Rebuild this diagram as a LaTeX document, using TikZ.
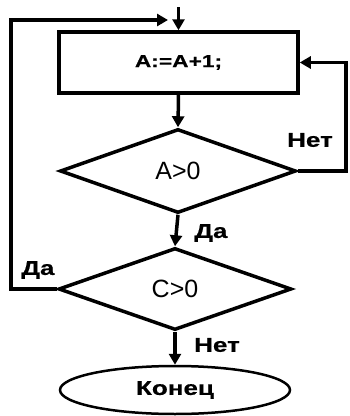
\documentclass[tikz,border=0pt]{standalone}
\usepackage{fontspec}
\setmainfont{Liberation Sans}
\newfontfamily\lblfont[FakeStretch=1.3,FakeBold=0.6]{Liberation Sans}
\usetikzlibrary{shapes.geometric,arrows.meta}
\begin{document}
\begin{tikzpicture}[x=1pt,y=-1pt,line width=3.5pt,
  arr/.style={-{Triangle[length=11pt,width=12pt]}},
  lbl/.style={font=\lblfont\bfseries\fontsize{20}{22}\selectfont,inner sep=0pt},
  cond/.style={diamond,draw,inner sep=0pt,font=\fontsize{25}{28}\selectfont},
  proc/.style={rectangle,draw,inner sep=0pt,font=\lblfont\bfseries\fontsize{17.5}{19}\selectfont},
  term/.style={ellipse,draw,line width=2.5pt,inner sep=0pt,font=\lblfont\bfseries\fontsize{20}{22}\selectfont}]
\useasboundingbox (0,0) rectangle (349,416);
\node[proc,minimum width=239pt,minimum height=61pt] (box) at (178.5,62.5) {A:=A+1;};
\node[cond,minimum width=236pt,minimum height=84pt] (d1) at (178,171) {A>0};
\node[cond,minimum width=233pt,minimum height=82pt] (d2) at (175,289) {C>0};
\node[term,minimum width=230pt,minimum height=48pt] (e) at (175,390) {Конец};
\coordinate (r) at (346,0);
\coordinate (lt) at (11,20);
\coordinate (tipL) at (168,20);
\coordinate (dt) at (178.5,7);
\draw[arr] (box.south) -- (d1.north);
\draw[arr] (d1.south) -- (d2.north);
\draw[arr] (d2.south) -- (e.north);
\draw[arr] (d1.east) -- (d1.east -| r) |- (box.east);
\draw[arr] (d2.west) -| (lt) -- (tipL);
\draw[arr] (dt) -- (box.north);
\node[lbl] (n1) at (310,140) {Нет};
\node[lbl] (y1) at (211,233) {Да};
\node[lbl] (y2) at (38,270) {Да};
\node[lbl] (n2) at (217,345) {Нет};
\end{tikzpicture}
\end{document}
